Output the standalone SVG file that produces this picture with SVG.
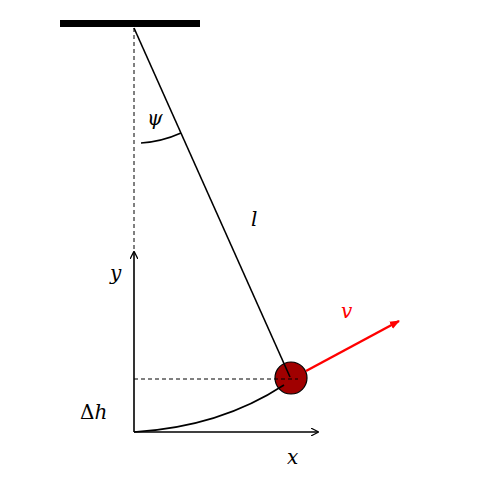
<svg xmlns="http://www.w3.org/2000/svg" width="477" height="484" viewBox="0 0 477 484">
<style>
.lbl{font-family:"DejaVu Serif","Liberation Serif",serif;font-style:italic;font-size:20px;fill:#000}
.ln{stroke:#000;stroke-width:1.6;fill:none}
.dash{stroke:#000;stroke-width:1;stroke-dasharray:4 3;fill:none}
</style>
<defs>
<marker id="ah" viewBox="0 0 10 10" refX="9" refY="5" markerWidth="8" markerHeight="8" orient="auto" markerUnits="userSpaceOnUse"><path d="M0,0 L10,5 L0,10" fill="none" stroke="#000" stroke-width="1.6"/></marker>
<marker id="ahr" viewBox="0 0 10 10" refX="9" refY="5" markerWidth="10" markerHeight="10" orient="auto" markerUnits="userSpaceOnUse"><path d="M0,1 L10,5 L0,9 z" fill="#f00"/></marker>
</defs>
<g id="ceiling"><rect x="60" y="20" width="140" height="7" fill="#000"/></g>
<g id="bob"><circle cx="291" cy="378" r="16" fill="#a00000" stroke="#000" stroke-width="1.2"/></g>
<g id="connectors">
<line class="dash" x1="134" y1="28" x2="134" y2="252"/>
<line class="ln" x1="134" y1="432" x2="134" y2="252" marker-end="url(#ah)"/>
<line class="ln" x1="134" y1="432" x2="318" y2="432" marker-end="url(#ah)"/>
<line class="dash" x1="134" y1="379" x2="298" y2="379"/>
<path class="ln" d="M134,432 Q220,427 284,385"/>
<line class="ln" x1="134" y1="28" x2="290" y2="377"/>
<path class="ln" d="M141,143 A115,115 0 0 0 181,133"/>
<line x1="306" y1="371" x2="399" y2="321" stroke="#f00" stroke-width="2.5" marker-end="url(#ahr)"/>
</g>
<g id="labels">
<text class="lbl" x="147" y="125">ψ</text>
<text class="lbl" x="251" y="226">l</text>
<text class="lbl" x="110" y="280">y</text>
<text class="lbl" x="80" y="419" style="font-style:normal">Δ<tspan style="font-style:italic">h</tspan></text>
<text class="lbl" x="287" y="464">x</text>
<text class="lbl" x="341" y="318" style="fill:#f00">v</text>
</g>
</svg>
